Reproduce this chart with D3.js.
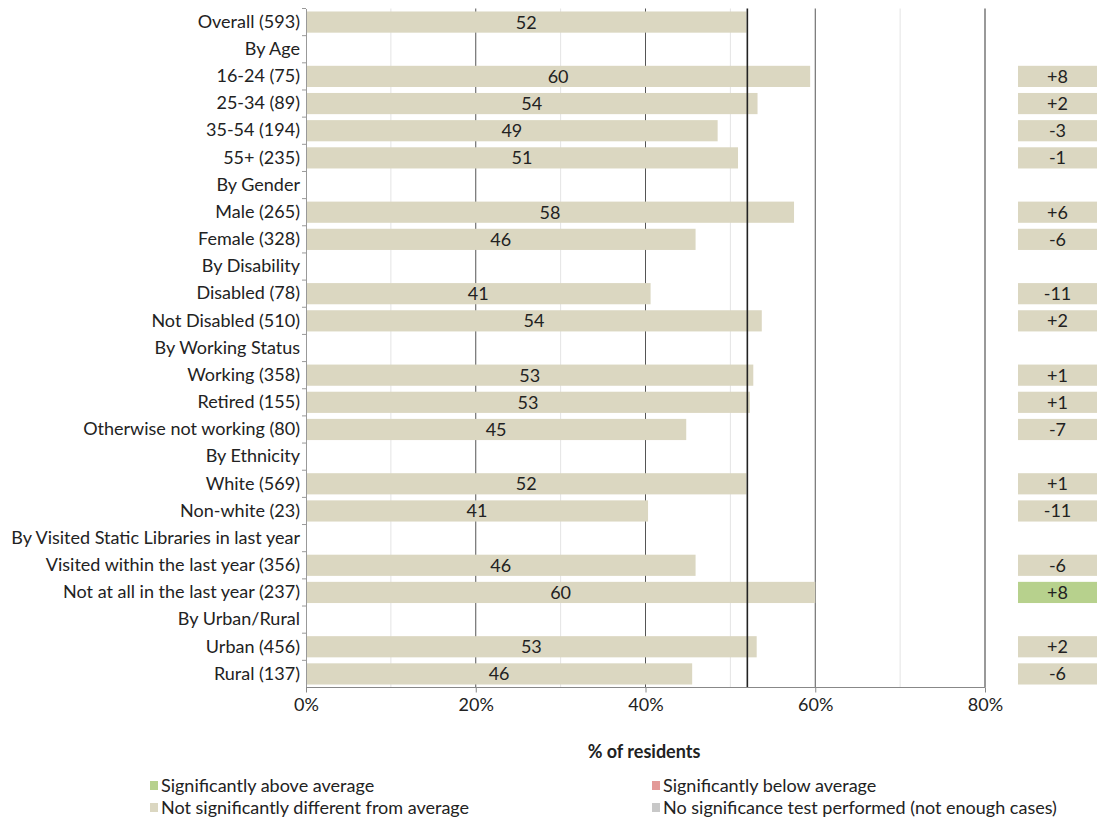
<!DOCTYPE html>
<html><head><meta charset="utf-8">
<script src="https://cdn.jsdelivr.net/npm/d3@7/dist/d3.min.js"></script>
<style>body{margin:0;background:#fff}svg{display:block}text{font-family:Lato,"Open Sans",sans-serif;fill:#222}</style>
</head><body><svg id="c" width="1099" height="823"></svg>
<script>
const categories = ["Overall (593)","By Age","16-24 (75)","25-34 (89)","35-54 (194)","55+ (235)","By Gender","Male (265)","Female (328)","By Disability","Disabled (78)","Not Disabled (510)","By Working Status","Working (358)","Retired (155)","Otherwise not working (80)","By Ethnicity","White (569)","Non-white (23)","By Visited Static Libraries in last year","Visited within the last year (356)","Not at all in the last year (237)","By Urban/Rural","Urban (456)","Rural (137)"];
const values = [51.9,null,59.4,53.2,48.5,50.9,null,57.5,45.9,null,40.6,53.7,null,52.7,52.3,44.8,null,51.9,40.3,null,45.9,60.0,null,53.1,45.5];
const valueLabels = ["52","","60","54","49","51","","58","46","","41","54","","53","53","45","","52","41","","46","60","","53","46"];
const diffLabels = ["","","+8","+2","-3","-1","","+6","-6","","-11","+2","","+1","+1","-7","","+1","-11","","-6","+8","","+2","-6"];
const significance = ["","","ns","ns","ns","ns","","ns","ns","","ns","ns","","ns","ns","ns","","ns","ns","","ns","above","","ns","ns"];
const average = 52;
const xTicks = [0,20,40,60,80];
const minorTicks = [10,30,50,70];
const legendItems = [["above","Significantly above average"],["below","Significantly below average"],["ns","Not significantly different from average"],["none","No significance test performed (not enough cases)"]];

const FS = 18;
const colors = {ns:"#dbd7c1", above:"#b7d18d", below:"#e39a98", none:"#c8c8c8"};
const svg = d3.select("#c");
const x = d3.scaleLinear().domain([0,80]).range([306,985]);
const plotTop = 8.5, plotBottom = 687.5;
const y = d3.scaleBand().domain(categories).range([plotTop,plotBottom]).paddingInner(0.22).paddingOuter(0.11);

// gridlines
svg.append("g").selectAll("line").data(minorTicks).join("line")
  .attr("x1",d=>x(d)).attr("x2",d=>x(d)).attr("y1",plotTop).attr("y2",plotBottom)
  .attr("stroke","#e4e4e4").attr("stroke-width",1);
svg.append("g").selectAll("line").data(xTicks.slice(1)).join("line")
  .attr("x1",d=>x(d)).attr("x2",d=>x(d)).attr("y1",plotTop).attr("y2",plotBottom)
  .attr("stroke",d=>d===80?"#777":"#555").attr("stroke-width",d=>d===80?1.5:1);

// bars
const rows = categories.map((c,i)=>({c,v:values[i],l:valueLabels[i],d:diffLabels[i],s:significance[i]}));
svg.append("g").selectAll("rect").data(rows.filter(r=>r.v!=null)).join("rect")
  .attr("x",x(0)).attr("y",r=>y(r.c)).attr("width",r=>x(r.v)-x(0)).attr("height",y.bandwidth())
  .attr("fill",colors.ns);
svg.append("g").selectAll("text").data(rows.filter(r=>r.v!=null)).join("text")
  .attr("x",r=>(x(0)+x(r.v))/2).attr("y",r=>y(r.c)+y.bandwidth()/2).attr("dy","0.36em")
  .attr("text-anchor","middle").attr("font-size",FS).text(r=>r.l);

// average line
svg.append("line").attr("x1",x(average)).attr("x2",x(average)).attr("y1",plotTop).attr("y2",plotBottom)
  .attr("stroke","#222").attr("stroke-width",1.6);

// right column
const bx = 1018, bw = 79;
svg.append("g").selectAll("rect").data(rows.filter(r=>r.d)).join("rect")
  .attr("x",bx).attr("y",r=>y(r.c)).attr("width",bw).attr("height",y.bandwidth())
  .attr("fill",r=>colors[r.s]);
svg.append("g").selectAll("text").data(rows.filter(r=>r.d)).join("text")
  .attr("x",bx+bw/2).attr("y",r=>y(r.c)+y.bandwidth()/2).attr("dy","0.36em")
  .attr("text-anchor","middle").attr("font-size",FS).text(r=>r.d);

// y axis
const ya = d3.axisLeft(y).tickSize(0).tickPadding(6);
const gy = svg.append("g").attr("transform",`translate(${x(0)},0)`).call(ya);
gy.select(".domain").attr("stroke","#999");
gy.selectAll("text").attr("font-size",FS).attr("font-family","Lato,sans-serif").attr("fill","#222");
const bounds = categories.map(c=>y(c)-y.step()*y.paddingInner()/2);
svg.append("g").selectAll("line").data(bounds).join("line")
  .attr("x1",x(0)-4).attr("x2",x(0)).attr("y1",d=>d).attr("y2",d=>d).attr("stroke","#999");

// x axis
const xa = d3.axisBottom(x).tickValues(xTicks).tickFormat(d=>d+"%").tickSize(5).tickPadding(6);
const gx = svg.append("g").attr("transform",`translate(0,${plotBottom})`).call(xa);
gx.select(".domain").attr("stroke","#888").attr("d",`M${x(0)},0H${x(80)}`);
gx.selectAll(".tick line").attr("stroke","#888");
gx.selectAll("text").attr("font-size",FS).attr("font-family","Lato,sans-serif").attr("fill","#333");

svg.append("text").attr("x",644).attr("y",758).attr("text-anchor","middle")
  .attr("font-size",FS).attr("font-weight","bold").text("% of residents");

// legend
const lg = svg.append("g");
legendItems.forEach((it,i)=>{
  const lx = i%2===0 ? 150 : 652, ly = i<2 ? 786 : 808;
  lg.append("rect").attr("x",lx).attr("y",ly-5).attr("width",8).attr("height",9).attr("fill",colors[it[0]]);
  lg.append("text").attr("x",lx+11).attr("y",ly).attr("dy","0.36em").attr("font-size",FS).text(it[1]);
});
</script></body></html>
